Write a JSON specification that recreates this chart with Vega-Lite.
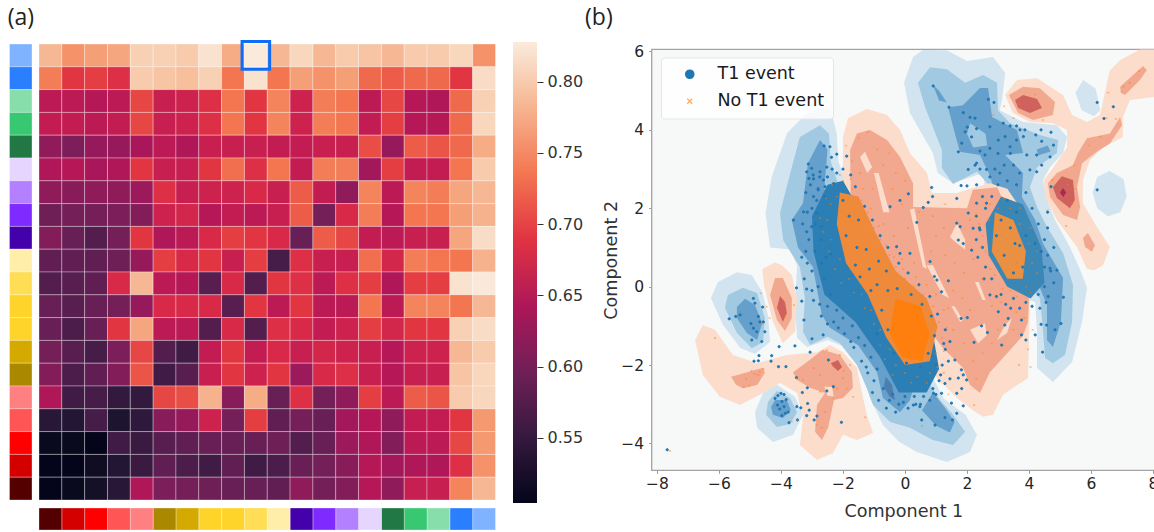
{"$schema":"https://vega.github.io/schema/vega-lite/v6.json","width":1154,"height":532,"padding":0,"autosize":"none","background":"#ffffff","config":{"view":{"stroke":null},"font":"DejaVu Sans"},"datasets":{"groups":[{"r":1,"c":20},{"r":2,"c":19},{"r":3,"c":18},{"r":4,"c":17},{"r":5,"c":16},{"r":6,"c":15},{"r":7,"c":14},{"r":8,"c":13},{"r":9,"c":12},{"r":10,"c":11},{"r":11,"c":10},{"r":12,"c":9},{"r":13,"c":8},{"r":14,"c":7},{"r":15,"c":6},{"r":16,"c":5},{"r":17,"c":4},{"r":18,"c":3},{"r":19,"c":2},{"r":20,"c":1}]},"resolve":{"scale":{"x":"independent","y":"independent","color":"independent","fill":"independent","stroke":"independent","shape":"independent","opacity":"independent"},"axis":{"x":"independent","y":"independent"},"legend":{"color":"independent"}},"layer":[
{"data":{"name":"groups"},"mark":{"type":"rect","stroke":"#ffffff","strokeWidth":0.6,"strokeOpacity":0.5},"encoding":{"x":{"datum":"strip","type":"nominal","axis":null,"scale":{"type":"band","range":[9.5,32],"paddingInner":0,"paddingOuter":0}},"y":{"field":"r","type":"ordinal","axis":null,"scale":{"type":"band","range":[44,500],"paddingInner":0,"paddingOuter":0}},"color":{"field":"r","type":"ordinal","legend":null,"scale":{"domain":[1,2,3,4,5,6,7,8,9,10,11,12,13,14,15,16,17,18,19,20],"range":["#80b3ff","#2a7fff","#87deaa","#37c871","#217844","#e5d5ff","#b380ff","#7f2aff","#4400aa","#ffeeaa","#ffdd55","#ffd42a","#ffd42a","#d4aa00","#aa8800","#ff8080","#ff5555","#ff0000","#d40000","#550000"]}}}},
{"data":{"name":"groups"},"mark":{"type":"rect","stroke":"#ffffff","strokeWidth":0.6,"strokeOpacity":0.5},"encoding":{"x":{"field":"c","type":"ordinal","axis":null,"scale":{"type":"band","range":[39,495.5],"paddingInner":0,"paddingOuter":0}},"y":{"datum":"strip","type":"nominal","axis":null,"scale":{"type":"band","range":[508,530],"paddingInner":0,"paddingOuter":0}},"color":{"field":"r","type":"ordinal","legend":null,"scale":{"domain":[1,2,3,4,5,6,7,8,9,10,11,12,13,14,15,16,17,18,19,20],"range":["#80b3ff","#2a7fff","#87deaa","#37c871","#217844","#e5d5ff","#b380ff","#7f2aff","#4400aa","#ffeeaa","#ffdd55","#ffd42a","#ffd42a","#d4aa00","#aa8800","#ff8080","#ff5555","#ff0000","#d40000","#550000"]}}}},
{"encoding":{"x":{"field":"c","type":"ordinal","axis":null,"scale":{"type":"band","range":[39,495.5],"paddingInner":0,"paddingOuter":0}},"y":{"field":"r","type":"ordinal","axis":null,"scale":{"type":"band","range":[44,500],"paddingInner":0,"paddingOuter":0}}},"layer":[
{"data":{"values":[
{"r":1,"c":1,"v":0.785},{"r":1,"c":2,"v":0.755},{"r":1,"c":3,"v":0.765},{"r":1,"c":4,"v":0.77},{"r":1,"c":5,"v":0.805},{"r":1,"c":6,"v":0.805},{"r":1,"c":7,"v":0.8},{"r":1,"c":8,"v":0.82},{"r":1,"c":9,"v":0.775},{"r":1,"c":10,"v":0.827},{"r":1,"c":11,"v":0.785},{"r":1,"c":12,"v":0.81},{"r":1,"c":13,"v":0.785},{"r":1,"c":14,"v":0.8},{"r":1,"c":15,"v":0.795},{"r":1,"c":16,"v":0.785},{"r":1,"c":17,"v":0.8},{"r":1,"c":18,"v":0.8},{"r":1,"c":19,"v":0.81},{"r":1,"c":20,"v":0.755},
{"r":2,"c":1,"v":0.74},{"r":2,"c":2,"v":0.69},{"r":2,"c":3,"v":0.695},{"r":2,"c":4,"v":0.685},{"r":2,"c":5,"v":0.8},{"r":2,"c":6,"v":0.795},{"r":2,"c":7,"v":0.79},{"r":2,"c":8,"v":0.805},{"r":2,"c":9,"v":0.735},{"r":2,"c":10,"v":0.82},{"r":2,"c":11,"v":0.735},{"r":2,"c":12,"v":0.765},{"r":2,"c":13,"v":0.755},{"r":2,"c":14,"v":0.765},{"r":2,"c":15,"v":0.725},{"r":2,"c":16,"v":0.715},{"r":2,"c":17,"v":0.725},{"r":2,"c":18,"v":0.725},{"r":2,"c":19,"v":0.69},{"r":2,"c":20,"v":0.815},
{"r":3,"c":1,"v":0.655},{"r":3,"c":2,"v":0.655},{"r":3,"c":3,"v":0.65},{"r":3,"c":4,"v":0.655},{"r":3,"c":5,"v":0.7},{"r":3,"c":6,"v":0.665},{"r":3,"c":7,"v":0.67},{"r":3,"c":8,"v":0.685},{"r":3,"c":9,"v":0.735},{"r":3,"c":10,"v":0.69},{"r":3,"c":11,"v":0.745},{"r":3,"c":12,"v":0.67},{"r":3,"c":13,"v":0.74},{"r":3,"c":14,"v":0.735},{"r":3,"c":15,"v":0.655},{"r":3,"c":16,"v":0.7},{"r":3,"c":17,"v":0.65},{"r":3,"c":18,"v":0.645},{"r":3,"c":19,"v":0.725},{"r":3,"c":20,"v":0.805},
{"r":4,"c":1,"v":0.66},{"r":4,"c":2,"v":0.66},{"r":4,"c":3,"v":0.655},{"r":4,"c":4,"v":0.66},{"r":4,"c":5,"v":0.7},{"r":4,"c":6,"v":0.665},{"r":4,"c":7,"v":0.67},{"r":4,"c":8,"v":0.685},{"r":4,"c":9,"v":0.735},{"r":4,"c":10,"v":0.69},{"r":4,"c":11,"v":0.745},{"r":4,"c":12,"v":0.67},{"r":4,"c":13,"v":0.74},{"r":4,"c":14,"v":0.735},{"r":4,"c":15,"v":0.66},{"r":4,"c":16,"v":0.695},{"r":4,"c":17,"v":0.65},{"r":4,"c":18,"v":0.65},{"r":4,"c":19,"v":0.725},{"r":4,"c":20,"v":0.81},
{"r":5,"c":1,"v":0.62},{"r":5,"c":2,"v":0.605},{"r":5,"c":3,"v":0.625},{"r":5,"c":4,"v":0.625},{"r":5,"c":5,"v":0.64},{"r":5,"c":6,"v":0.655},{"r":5,"c":7,"v":0.645},{"r":5,"c":8,"v":0.665},{"r":5,"c":9,"v":0.665},{"r":5,"c":10,"v":0.665},{"r":5,"c":11,"v":0.66},{"r":5,"c":12,"v":0.66},{"r":5,"c":13,"v":0.665},{"r":5,"c":14,"v":0.665},{"r":5,"c":15,"v":0.705},{"r":5,"c":16,"v":0.625},{"r":5,"c":17,"v":0.715},{"r":5,"c":18,"v":0.71},{"r":5,"c":19,"v":0.725},{"r":5,"c":20,"v":0.775},
{"r":6,"c":1,"v":0.645},{"r":6,"c":2,"v":0.65},{"r":6,"c":3,"v":0.64},{"r":6,"c":4,"v":0.645},{"r":6,"c":5,"v":0.69},{"r":6,"c":6,"v":0.665},{"r":6,"c":7,"v":0.665},{"r":6,"c":8,"v":0.69},{"r":6,"c":9,"v":0.73},{"r":6,"c":10,"v":0.685},{"r":6,"c":11,"v":0.735},{"r":6,"c":12,"v":0.66},{"r":6,"c":13,"v":0.74},{"r":6,"c":14,"v":0.74},{"r":6,"c":15,"v":0.635},{"r":6,"c":16,"v":0.695},{"r":6,"c":17,"v":0.66},{"r":6,"c":18,"v":0.66},{"r":6,"c":19,"v":0.735},{"r":6,"c":20,"v":0.8},
{"r":7,"c":1,"v":0.62},{"r":7,"c":2,"v":0.615},{"r":7,"c":3,"v":0.62},{"r":7,"c":4,"v":0.62},{"r":7,"c":5,"v":0.63},{"r":7,"c":6,"v":0.685},{"r":7,"c":7,"v":0.665},{"r":7,"c":8,"v":0.67},{"r":7,"c":9,"v":0.67},{"r":7,"c":10,"v":0.68},{"r":7,"c":11,"v":0.665},{"r":7,"c":12,"v":0.715},{"r":7,"c":13,"v":0.66},{"r":7,"c":14,"v":0.62},{"r":7,"c":15,"v":0.745},{"r":7,"c":16,"v":0.655},{"r":7,"c":17,"v":0.745},{"r":7,"c":18,"v":0.74},{"r":7,"c":19,"v":0.77},{"r":7,"c":20,"v":0.785},
{"r":8,"c":1,"v":0.595},{"r":8,"c":2,"v":0.6},{"r":8,"c":3,"v":0.6},{"r":8,"c":4,"v":0.605},{"r":8,"c":5,"v":0.61},{"r":8,"c":6,"v":0.67},{"r":8,"c":7,"v":0.675},{"r":8,"c":8,"v":0.65},{"r":8,"c":9,"v":0.66},{"r":8,"c":10,"v":0.655},{"r":8,"c":11,"v":0.665},{"r":8,"c":12,"v":0.715},{"r":8,"c":13,"v":0.6},{"r":8,"c":14,"v":0.68},{"r":8,"c":15,"v":0.74},{"r":8,"c":16,"v":0.65},{"r":8,"c":17,"v":0.735},{"r":8,"c":18,"v":0.735},{"r":8,"c":19,"v":0.765},{"r":8,"c":20,"v":0.78},
{"r":9,"c":1,"v":0.61},{"r":9,"c":2,"v":0.59},{"r":9,"c":3,"v":0.575},{"r":9,"c":4,"v":0.6},{"r":9,"c":5,"v":0.69},{"r":9,"c":6,"v":0.645},{"r":9,"c":7,"v":0.655},{"r":9,"c":8,"v":0.68},{"r":9,"c":9,"v":0.695},{"r":9,"c":10,"v":0.69},{"r":9,"c":11,"v":0.68},{"r":9,"c":12,"v":0.59},{"r":9,"c":13,"v":0.715},{"r":9,"c":14,"v":0.7},{"r":9,"c":15,"v":0.66},{"r":9,"c":16,"v":0.655},{"r":9,"c":17,"v":0.665},{"r":9,"c":18,"v":0.665},{"r":9,"c":19,"v":0.77},{"r":9,"c":20,"v":0.815},
{"r":10,"c":1,"v":0.585},{"r":10,"c":2,"v":0.585},{"r":10,"c":3,"v":0.585},{"r":10,"c":4,"v":0.595},{"r":10,"c":5,"v":0.625},{"r":10,"c":6,"v":0.695},{"r":10,"c":7,"v":0.68},{"r":10,"c":8,"v":0.69},{"r":10,"c":9,"v":0.665},{"r":10,"c":10,"v":0.695},{"r":10,"c":11,"v":0.565},{"r":10,"c":12,"v":0.685},{"r":10,"c":13,"v":0.665},{"r":10,"c":14,"v":0.665},{"r":10,"c":15,"v":0.73},{"r":10,"c":16,"v":0.675},{"r":10,"c":17,"v":0.74},{"r":10,"c":18,"v":0.735},{"r":10,"c":19,"v":0.735},{"r":10,"c":20,"v":0.78},
{"r":11,"c":1,"v":0.575},{"r":11,"c":2,"v":0.58},{"r":11,"c":3,"v":0.585},{"r":11,"c":4,"v":0.68},{"r":11,"c":5,"v":0.785},{"r":11,"c":6,"v":0.655},{"r":11,"c":7,"v":0.65},{"r":11,"c":8,"v":0.58},{"r":11,"c":9,"v":0.68},{"r":11,"c":10,"v":0.575},{"r":11,"c":11,"v":0.69},{"r":11,"c":12,"v":0.685},{"r":11,"c":13,"v":0.655},{"r":11,"c":14,"v":0.685},{"r":11,"c":15,"v":0.695},{"r":11,"c":16,"v":0.645},{"r":11,"c":17,"v":0.695},{"r":11,"c":18,"v":0.695},{"r":11,"c":19,"v":0.82},{"r":11,"c":20,"v":0.825},
{"r":12,"c":1,"v":0.59},{"r":12,"c":2,"v":0.58},{"r":12,"c":3,"v":0.59},{"r":12,"c":4,"v":0.6},{"r":12,"c":5,"v":0.625},{"r":12,"c":6,"v":0.68},{"r":12,"c":7,"v":0.68},{"r":12,"c":8,"v":0.68},{"r":12,"c":9,"v":0.58},{"r":12,"c":10,"v":0.69},{"r":12,"c":11,"v":0.655},{"r":12,"c":12,"v":0.69},{"r":12,"c":13,"v":0.655},{"r":12,"c":14,"v":0.655},{"r":12,"c":15,"v":0.735},{"r":12,"c":16,"v":0.655},{"r":12,"c":17,"v":0.745},{"r":12,"c":18,"v":0.745},{"r":12,"c":19,"v":0.735},{"r":12,"c":20,"v":0.785},
{"r":13,"c":1,"v":0.59},{"r":13,"c":2,"v":0.57},{"r":13,"c":3,"v":0.59},{"r":13,"c":4,"v":0.69},{"r":13,"c":5,"v":0.77},{"r":13,"c":6,"v":0.655},{"r":13,"c":7,"v":0.655},{"r":13,"c":8,"v":0.575},{"r":13,"c":9,"v":0.68},{"r":13,"c":10,"v":0.575},{"r":13,"c":11,"v":0.685},{"r":13,"c":12,"v":0.68},{"r":13,"c":13,"v":0.66},{"r":13,"c":14,"v":0.67},{"r":13,"c":15,"v":0.695},{"r":13,"c":16,"v":0.675},{"r":13,"c":17,"v":0.69},{"r":13,"c":18,"v":0.69},{"r":13,"c":19,"v":0.805},{"r":13,"c":20,"v":0.815},
{"r":14,"c":1,"v":0.6},{"r":14,"c":2,"v":0.58},{"r":14,"c":3,"v":0.565},{"r":14,"c":4,"v":0.605},{"r":14,"c":5,"v":0.7},{"r":14,"c":6,"v":0.575},{"r":14,"c":7,"v":0.56},{"r":14,"c":8,"v":0.66},{"r":14,"c":9,"v":0.69},{"r":14,"c":10,"v":0.66},{"r":14,"c":11,"v":0.68},{"r":14,"c":12,"v":0.665},{"r":14,"c":13,"v":0.675},{"r":14,"c":14,"v":0.67},{"r":14,"c":15,"v":0.665},{"r":14,"c":16,"v":0.65},{"r":14,"c":17,"v":0.67},{"r":14,"c":18,"v":0.67},{"r":14,"c":19,"v":0.785},{"r":14,"c":20,"v":0.8},
{"r":15,"c":1,"v":0.61},{"r":15,"c":2,"v":0.57},{"r":15,"c":3,"v":0.585},{"r":15,"c":4,"v":0.61},{"r":15,"c":5,"v":0.71},{"r":15,"c":6,"v":0.56},{"r":15,"c":7,"v":0.58},{"r":15,"c":8,"v":0.665},{"r":15,"c":9,"v":0.69},{"r":15,"c":10,"v":0.67},{"r":15,"c":11,"v":0.69},{"r":15,"c":12,"v":0.63},{"r":15,"c":13,"v":0.68},{"r":15,"c":14,"v":0.685},{"r":15,"c":15,"v":0.665},{"r":15,"c":16,"v":0.65},{"r":15,"c":17,"v":0.665},{"r":15,"c":18,"v":0.665},{"r":15,"c":19,"v":0.795},{"r":15,"c":20,"v":0.81},
{"r":16,"c":1,"v":0.645},{"r":16,"c":2,"v":0.56},{"r":16,"c":3,"v":0.565},{"r":16,"c":4,"v":0.55},{"r":16,"c":5,"v":0.55},{"r":16,"c":6,"v":0.7},{"r":16,"c":7,"v":0.705},{"r":16,"c":8,"v":0.78},{"r":16,"c":9,"v":0.615},{"r":16,"c":10,"v":0.775},{"r":16,"c":11,"v":0.59},{"r":16,"c":12,"v":0.685},{"r":16,"c":13,"v":0.6},{"r":16,"c":14,"v":0.62},{"r":16,"c":15,"v":0.695},{"r":16,"c":16,"v":0.655},{"r":16,"c":17,"v":0.715},{"r":16,"c":18,"v":0.71},{"r":16,"c":19,"v":0.8},{"r":16,"c":20,"v":0.81},
{"r":17,"c":1,"v":0.54},{"r":17,"c":2,"v":0.535},{"r":17,"c":3,"v":0.565},{"r":17,"c":4,"v":0.53},{"r":17,"c":5,"v":0.545},{"r":17,"c":6,"v":0.615},{"r":17,"c":7,"v":0.625},{"r":17,"c":8,"v":0.67},{"r":17,"c":9,"v":0.6},{"r":17,"c":10,"v":0.695},{"r":17,"c":11,"v":0.585},{"r":17,"c":12,"v":0.6},{"r":17,"c":13,"v":0.59},{"r":17,"c":14,"v":0.635},{"r":17,"c":15,"v":0.65},{"r":17,"c":16,"v":0.62},{"r":17,"c":17,"v":0.66},{"r":17,"c":18,"v":0.66},{"r":17,"c":19,"v":0.69},{"r":17,"c":20,"v":0.76},
{"r":18,"c":1,"v":0.51},{"r":18,"c":2,"v":0.51},{"r":18,"c":3,"v":0.505},{"r":18,"c":4,"v":0.56},{"r":18,"c":5,"v":0.555},{"r":18,"c":6,"v":0.58},{"r":18,"c":7,"v":0.585},{"r":18,"c":8,"v":0.59},{"r":18,"c":9,"v":0.59},{"r":18,"c":10,"v":0.59},{"r":18,"c":11,"v":0.595},{"r":18,"c":12,"v":0.575},{"r":18,"c":13,"v":0.59},{"r":18,"c":14,"v":0.63},{"r":18,"c":15,"v":0.645},{"r":18,"c":16,"v":0.61},{"r":18,"c":17,"v":0.655},{"r":18,"c":18,"v":0.655},{"r":18,"c":19,"v":0.7},{"r":18,"c":20,"v":0.76},
{"r":19,"c":1,"v":0.505},{"r":19,"c":2,"v":0.505},{"r":19,"c":3,"v":0.515},{"r":19,"c":4,"v":0.535},{"r":19,"c":5,"v":0.555},{"r":19,"c":6,"v":0.585},{"r":19,"c":7,"v":0.57},{"r":19,"c":8,"v":0.56},{"r":19,"c":9,"v":0.585},{"r":19,"c":10,"v":0.56},{"r":19,"c":11,"v":0.57},{"r":19,"c":12,"v":0.59},{"r":19,"c":13,"v":0.6},{"r":19,"c":14,"v":0.615},{"r":19,"c":15,"v":0.65},{"r":19,"c":16,"v":0.635},{"r":19,"c":17,"v":0.645},{"r":19,"c":18,"v":0.645},{"r":19,"c":19,"v":0.685},{"r":19,"c":20,"v":0.755},
{"r":20,"c":1,"v":0.505},{"r":20,"c":2,"v":0.51},{"r":20,"c":3,"v":0.52},{"r":20,"c":4,"v":0.54},{"r":20,"c":5,"v":0.645},{"r":20,"c":6,"v":0.605},{"r":20,"c":7,"v":0.6},{"r":20,"c":8,"v":0.595},{"r":20,"c":9,"v":0.59},{"r":20,"c":10,"v":0.59},{"r":20,"c":11,"v":0.585},{"r":20,"c":12,"v":0.62},{"r":20,"c":13,"v":0.6},{"r":20,"c":14,"v":0.61},{"r":20,"c":15,"v":0.65},{"r":20,"c":16,"v":0.62},{"r":20,"c":17,"v":0.665},{"r":20,"c":18,"v":0.665},{"r":20,"c":19,"v":0.745},{"r":20,"c":20,"v":0.785}
]},"mark":{"type":"rect","stroke":"#ffffff","strokeWidth":0.7,"strokeOpacity":0.45},"encoding":{"color":{"field":"v","type":"quantitative","legend":null,"scale":{"domain":[0.5044,0.5506,0.5968,0.643,0.6892,0.7354,0.7816,0.8278],"range":["#03051a","#35193e","#701f57","#ad1759","#e13342","#f37651","#f6b48f","#faebdd"]}}}},
{"data":{"values":[{"r":1,"c":10}]},"mark":{"type":"point","shape":"square","filled":false,"stroke":"#0f6df5","strokeWidth":3,"size":760,"opacity":1}}
]},
{"data":{"values":[{"a":0,"b":1,"lo":0.5044,"hi":0.8278}]},"mark":{"type":"rect","fill":{"gradient":"linear","x1":0,"y1":1,"x2":0,"y2":0,"stops":[{"offset":0,"color":"#03051a"},{"offset":0.1429,"color":"#35193e"},{"offset":0.2857,"color":"#701f57"},{"offset":0.4286,"color":"#ad1759"},{"offset":0.5714,"color":"#e13342"},{"offset":0.7143,"color":"#f37651"},{"offset":0.8571,"color":"#f6b48f"},{"offset":1,"color":"#faebdd"}]}},"encoding":{"x":{"field":"a","type":"quantitative","axis":null,"scale":{"domain":[0,1],"range":[513,537],"zero":false,"nice":false}},"x2":{"field":"b"},"y":{"field":"lo","type":"quantitative","scale":{"domain":[0.5044,0.8278],"range":[503,42],"zero":false,"nice":false},"axis":{"orient":"right","offset":-617,"title":null,"values":[0.55,0.6,0.65,0.7,0.75,0.8],"format":".2f","domain":false,"grid":false,"tickColor":"#333333","tickSize":6,"labelFontSize":16,"labelColor":"#333333","labelPadding":4,"labelFont":"DejaVu Sans"}},"y2":{"field":"hi"}}},
{"encoding":{"x":{"field":"x","type":"quantitative","scale":{"domain":[-8.17,8.065],"range":[651.7,1155],"zero":false,"nice":false},"axis":{"orient":"bottom","offset":-61.7,"title":"Component 1","values":[-8,-6,-4,-2,0,2,4,6,8],"domain":false,"grid":false,"tickColor":"#999999","tickSize":3,"labelFontSize":15.5,"labelColor":"#262626","labelPadding":3,"labelFont":"DejaVu Sans","titleFont":"DejaVu Sans","titleFontSize":17.6,"titleFontWeight":"normal","titleColor":"#333333","titlePadding":11,"labelBound":false,"labelFlush":false,"labelOverlap":false}},"y":{"field":"y","type":"quantitative","scale":{"domain":[-4.684,6.056],"range":[470.3,49.3],"zero":false,"nice":false},"axis":{"orient":"left","offset":-651.7,"title":"Component 2","values":[-4,-2,0,2,4,6],"domain":false,"grid":false,"tickColor":"#999999","tickSize":3,"labelFontSize":15.5,"labelColor":"#262626","labelPadding":5,"labelFont":"DejaVu Sans","titleFont":"DejaVu Sans","titleFontSize":17.6,"titleFontWeight":"normal","titleColor":"#333333","titlePadding":0,"labelOverlap":false}}},"layer":[
{"data":{"values":[{"x":-8.17,"x2":8.065,"y":-4.684,"y2":6.056}]},"mark":{"type":"rect","fill":"#f7f8f8","stroke":"#a3a3a3","strokeWidth":1.3},"encoding":{"x2":{"field":"x2"},"y2":{"field":"y2"}}},
{"data":{"values":[
{"p":"B1a","x":-2.74,"y":4.56},{"p":"B1a","x":-2.4,"y":4.52},{"p":"B1a","x":-2.2,"y":3.9},{"p":"B1a","x":-2.15,"y":3.2},{"p":"B1a","x":-1.6,"y":2},{"p":"B1a","x":-0.9,"y":0.6},{"p":"B1a","x":-0.2,"y":-0.6},{"p":"B1a","x":0.5,"y":-1.6},{"p":"B1a","x":0.95,"y":-2.4},{"p":"B1a","x":1.25,"y":-2.85},{"p":"B1a","x":1.95,"y":-3.27},{"p":"B1a","x":2.32,"y":-3.78},{"p":"B1a","x":2.1,"y":-4.22},{"p":"B1a","x":1.35,"y":-4.47},{"p":"B1a","x":0.38,"y":-4.22},{"p":"B1a","x":-0.2,"y":-3.95},{"p":"B1a","x":-0.71,"y":-3.53},{"p":"B1a","x":-1.13,"y":-2.84},{"p":"B1a","x":-1.35,"y":-2.18},{"p":"B1a","x":-1.87,"y":-1.56},{"p":"B1a","x":-2.5,"y":-1.36},{"p":"B1a","x":-3.16,"y":-1.54},{"p":"B1a","x":-3.48,"y":-1.3},{"p":"B1a","x":-3.55,"y":-0.5},{"p":"B1a","x":-3.48,"y":0.55},{"p":"B1a","x":-3.7,"y":0.95},{"p":"B1a","x":-4.35,"y":1},{"p":"B1a","x":-4.5,"y":1.88},{"p":"B1a","x":-4.3,"y":2.8},{"p":"B1a","x":-3.8,"y":3.92},{"p":"B1a","x":-3.2,"y":4.4},
{"p":"B1b","x":0.58,"y":6.04},{"p":"B1b","x":1.35,"y":6.03},{"p":"B1b","x":2,"y":5.76},{"p":"B1b","x":2.84,"y":5.86},{"p":"B1b","x":3.23,"y":5.45},{"p":"B1b","x":3.13,"y":4.76},{"p":"B1b","x":3.06,"y":4.5},{"p":"B1b","x":3.81,"y":4.2},{"p":"B1b","x":4.9,"y":4.12},{"p":"B1b","x":5.23,"y":3.82},{"p":"B1b","x":5.1,"y":3.41},{"p":"B1b","x":4.68,"y":3.05},{"p":"B1b","x":4.45,"y":2.72},{"p":"B1b","x":4.58,"y":2.21},{"p":"B1b","x":4.84,"y":1.7},{"p":"B1b","x":5.32,"y":1.01},{"p":"B1b","x":5.65,"y":0.43},{"p":"B1b","x":5.87,"y":-0.03},{"p":"B1b","x":5.71,"y":-0.9},{"p":"B1b","x":5.39,"y":-1.92},{"p":"B1b","x":4.77,"y":-2.43},{"p":"B1b","x":4.26,"y":-2.07},{"p":"B1b","x":4.26,"y":-1.16},{"p":"B1b","x":4.2,"y":-0.39},{"p":"B1b","x":3.4,"y":-0.2},{"p":"B1b","x":2.7,"y":0.5},{"p":"B1b","x":2.5,"y":1.5},{"p":"B1b","x":2.6,"y":2.4},{"p":"B1b","x":2.52,"y":2.9},{"p":"B1b","x":1.55,"y":2.64},{"p":"B1b","x":1.06,"y":2.9},{"p":"B1b","x":0.9,"y":3.41},{"p":"B1b","x":0.16,"y":4.43},{"p":"B1b","x":-0.03,"y":5.2},{"p":"B1b","x":0.26,"y":5.86},
{"p":"B1c","x":-5.42,"y":0.37},{"p":"B1c","x":-4.94,"y":0.3},{"p":"B1c","x":-4.6,"y":-0.14},{"p":"B1c","x":-4.42,"y":-0.72},{"p":"B1c","x":-4.35,"y":-1.41},{"p":"B1c","x":-4.84,"y":-1.72},{"p":"B1c","x":-5.32,"y":-1.56},{"p":"B1c","x":-5.87,"y":-0.98},{"p":"B1c","x":-6.26,"y":-0.29},{"p":"B1c","x":-6.03,"y":0.12},
{"p":"B1d","x":-4.13,"y":-2.5},{"p":"B1d","x":-3.55,"y":-2.81},{"p":"B1d","x":-3.29,"y":-3.27},{"p":"B1d","x":-3.61,"y":-3.78},{"p":"B1d","x":-4.26,"y":-3.96},{"p":"B1d","x":-4.77,"y":-3.6},{"p":"B1d","x":-4.84,"y":-3.2},{"p":"B1d","x":-4.58,"y":-2.71},
{"p":"B1e","x":5.75,"y":5.27},{"p":"B1e","x":6.15,"y":5.05},{"p":"B1e","x":6.3,"y":4.5},{"p":"B1e","x":6.1,"y":4.35},{"p":"B1e","x":5.7,"y":4.5},{"p":"B1e","x":5.5,"y":4.95},
{"p":"B1f","x":6.6,"y":2.95},{"p":"B1f","x":7.05,"y":2.75},{"p":"B1f","x":7.15,"y":2.3},{"p":"B1f","x":6.95,"y":1.9},{"p":"B1f","x":6.55,"y":1.8},{"p":"B1f","x":6.2,"y":2},{"p":"B1f","x":6.05,"y":2.4},{"p":"B1f","x":6.2,"y":2.8},
{"p":"B2a","x":-2.74,"y":4.12},{"p":"B2a","x":-2.45,"y":3.9},{"p":"B2a","x":-2.4,"y":3.2},{"p":"B2a","x":-1.9,"y":2},{"p":"B2a","x":-1.2,"y":0.5},{"p":"B2a","x":-0.4,"y":-0.8},{"p":"B2a","x":0.3,"y":-1.9},{"p":"B2a","x":1.13,"y":-2.89},{"p":"B2a","x":1.55,"y":-3.27},{"p":"B2a","x":1.94,"y":-3.7},{"p":"B2a","x":1.55,"y":-4.04},{"p":"B2a","x":0.9,"y":-3.91},{"p":"B2a","x":0.16,"y":-3.6},{"p":"B2a","x":-0.48,"y":-3.45},{"p":"B2a","x":-1.03,"y":-3.02},{"p":"B2a","x":-1.23,"y":-2.59},{"p":"B2a","x":-1.55,"y":-2},{"p":"B2a","x":-2.1,"y":-1.44},{"p":"B2a","x":-2.5,"y":-1.28},{"p":"B2a","x":-3.06,"y":-1.49},{"p":"B2a","x":-3.29,"y":-1.15},{"p":"B2a","x":-3.23,"y":-0.29},{"p":"B2a","x":-3.39,"y":0.5},{"p":"B2a","x":-3.93,"y":1.19},{"p":"B2a","x":-4.03,"y":1.88},{"p":"B2a","x":-3.7,"y":2.9},{"p":"B2a","x":-3.39,"y":3.82},
{"p":"B2b","x":0.81,"y":5.6},{"p":"B2b","x":1.35,"y":5.55},{"p":"B2b","x":1.94,"y":5.2},{"p":"B2b","x":2.52,"y":5.4},{"p":"B2b","x":2.97,"y":5.2},{"p":"B2b","x":3,"y":4.5},{"p":"B2b","x":3.39,"y":4.17},{"p":"B2b","x":4.35,"y":3.87},{"p":"B2b","x":4.94,"y":3.74},{"p":"B2b","x":4.9,"y":3.41},{"p":"B2b","x":4.26,"y":3.05},{"p":"B2b","x":4.03,"y":2.54},{"p":"B2b","x":4.26,"y":2.03},{"p":"B2b","x":4.58,"y":1.52},{"p":"B2b","x":5.1,"y":0.86},{"p":"B2b","x":5.42,"y":0.04},{"p":"B2b","x":5.39,"y":-0.9},{"p":"B2b","x":5.16,"y":-1.74},{"p":"B2b","x":4.77,"y":-1.95},{"p":"B2b","x":4.52,"y":-1.82},{"p":"B2b","x":4.42,"y":-0.8},{"p":"B2b","x":4.35,"y":-0.29},{"p":"B2b","x":3.9,"y":0.1},{"p":"B2b","x":3.4,"y":0.9},{"p":"B2b","x":3,"y":1.8},{"p":"B2b","x":2.7,"y":2.6},{"p":"B2b","x":2.32,"y":2.93},{"p":"B2b","x":1.55,"y":2.62},{"p":"B2b","x":1.19,"y":3.03},{"p":"B2b","x":1.19,"y":3.49},{"p":"B2b","x":0.65,"y":4.58},{"p":"B2b","x":0.42,"y":5.2},
{"p":"B2c","x":-5.23,"y":-0.03},{"p":"B2c","x":-4.77,"y":-0.16},{"p":"B2c","x":-4.52,"y":-0.8},{"p":"B2c","x":-4.58,"y":-1.41},{"p":"B2c","x":-4.94,"y":-1.57},{"p":"B2c","x":-5.42,"y":-1.18},{"p":"B2c","x":-5.81,"y":-0.54},{"p":"B2c","x":-5.71,"y":-0.21},
{"p":"B2d","x":-4.13,"y":-2.66},{"p":"B2d","x":-3.71,"y":-2.84},{"p":"B2d","x":-3.48,"y":-3.2},{"p":"B2d","x":-3.71,"y":-3.5},{"p":"B2d","x":-4.13,"y":-3.58},{"p":"B2d","x":-4.48,"y":-3.27},{"p":"B2d","x":-4.42,"y":-2.94},
{"p":"B3a","x":-2.74,"y":3.74},{"p":"B3a","x":-2.5,"y":3.5},{"p":"B3a","x":-2.6,"y":2.5},{"p":"B3a","x":-2,"y":1.2},{"p":"B3a","x":-1.4,"y":0.2},{"p":"B3a","x":-0.7,"y":-0.9},{"p":"B3a","x":-0.1,"y":-1.7},{"p":"B3a","x":0.3,"y":-2.5},{"p":"B3a","x":0.16,"y":-2.9},{"p":"B3a","x":-0.16,"y":-3.2},{"p":"B3a","x":-0.71,"y":-2.84},{"p":"B3a","x":-0.9,"y":-2.18},{"p":"B3a","x":-1.5,"y":-1.5},{"p":"B3a","x":-2.42,"y":-1.05},{"p":"B3a","x":-2.68,"y":-0.72},{"p":"B3a","x":-2.97,"y":0.5},{"p":"B3a","x":-3.45,"y":1},{"p":"B3a","x":-3.65,"y":1.7},{"p":"B3a","x":-3.29,"y":2.13},{"p":"B3a","x":-3.13,"y":3.15},
{"p":"B3b","x":1.39,"y":4.58},{"p":"B3b","x":1.87,"y":4.63},{"p":"B3b","x":2.42,"y":5.07},{"p":"B3b","x":2.68,"y":5.07},{"p":"B3b","x":2.81,"y":4.33},{"p":"B3b","x":3.61,"y":4},{"p":"B3b","x":3.81,"y":3.41},{"p":"B3b","x":3.23,"y":3.36},{"p":"B3b","x":3.81,"y":2.9},{"p":"B3b","x":3.77,"y":2.29},{"p":"B3b","x":4.2,"y":1.7},{"p":"B3b","x":4.45,"y":1.1},{"p":"B3b","x":5.1,"y":0.22},{"p":"B3b","x":5.03,"y":-0.9},{"p":"B3b","x":4.77,"y":-1.54},{"p":"B3b","x":4.58,"y":-1.36},{"p":"B3b","x":4.58,"y":-0.47},{"p":"B3b","x":4.35,"y":-0.03},{"p":"B3b","x":3.9,"y":0.6},{"p":"B3b","x":3.2,"y":1.8},{"p":"B3b","x":2.7,"y":2.9},{"p":"B3b","x":2.42,"y":3.36},{"p":"B3b","x":1.77,"y":3.44},{"p":"B3b","x":1.61,"y":3.91},
{"p":"B3c","x":-5.16,"y":-0.31},{"p":"B3c","x":-4.84,"y":-0.47},{"p":"B3c","x":-4.61,"y":-0.93},{"p":"B3c","x":-4.77,"y":-1.36},{"p":"B3c","x":-5.1,"y":-1.18},{"p":"B3c","x":-5.42,"y":-0.8},{"p":"B3c","x":-5.42,"y":-0.52},
{"p":"B3d","x":-4.19,"y":-2.89},{"p":"B3d","x":-3.81,"y":-2.89},{"p":"B3d","x":-3.68,"y":-3.15},{"p":"B3d","x":-3.94,"y":-3.35},{"p":"B3d","x":-4.26,"y":-3.27},{"p":"B3d","x":-4.32,"y":-3.07},
{"p":"B3e","x":0.9,"y":-2.7},{"p":"B3e","x":1.3,"y":-3.1},{"p":"B3e","x":1.6,"y":-3.45},{"p":"B3e","x":1.45,"y":-3.72},{"p":"B3e","x":1,"y":-3.55},{"p":"B3e","x":0.55,"y":-3.15},
{"p":"B3f","x":0.9,"y":5.15},{"p":"B3f","x":1.1,"y":5},{"p":"B3f","x":1.35,"y":4.7},{"p":"B3f","x":1.1,"y":4.75},
{"p":"B3g","x":4.25,"y":3.5},{"p":"B3g","x":4.6,"y":3.6},{"p":"B3g","x":4.7,"y":3.45},{"p":"B3g","x":4.3,"y":3.35},
{"p":"B2h","x":2.1,"y":4.17},{"p":"B2h","x":2.6,"y":3.9},{"p":"B2h","x":2.65,"y":3.6},{"p":"B2h","x":2.2,"y":3.55},{"p":"B2h","x":2,"y":3.9},
{"p":"B4a","x":-0.62,"y":-2.3},{"p":"B4a","x":-0.42,"y":-2.5},{"p":"B4a","x":-0.32,"y":-2.9},{"p":"B4a","x":-0.5,"y":-2.8},{"p":"B4a","x":-0.68,"y":-2.55},
{"p":"O1a","x":-6.77,"y":-1.36},{"p":"O1a","x":-6.52,"y":-0.98},{"p":"O1a","x":-6.13,"y":-1.1},{"p":"O1a","x":-5.55,"y":-1.74},{"p":"O1a","x":-4.77,"y":-1.95},{"p":"O1a","x":-3.81,"y":-1.74},{"p":"O1a","x":-2.84,"y":-1.67},{"p":"O1a","x":-2.42,"y":-1.49},{"p":"O1a","x":-2,"y":-1.67},{"p":"O1a","x":-1.55,"y":-2.07},{"p":"O1a","x":-1.39,"y":-2.69},{"p":"O1a","x":-1.23,"y":-3.27},{"p":"O1a","x":-1.03,"y":-3.73},{"p":"O1a","x":-1.55,"y":-3.91},{"p":"O1a","x":-2,"y":-3.78},{"p":"O1a","x":-2.32,"y":-4.24},{"p":"O1a","x":-2.84,"y":-4.42},{"p":"O1a","x":-3.39,"y":-4.04},{"p":"O1a","x":-3.29,"y":-3.35},{"p":"O1a","x":-3.48,"y":-2.71},{"p":"O1a","x":-4.03,"y":-2.46},{"p":"O1a","x":-4.58,"y":-2.71},{"p":"O1a","x":-5.32,"y":-3.02},{"p":"O1a","x":-5.97,"y":-2.81},{"p":"O1a","x":-6.52,"y":-2.25},
{"p":"O1b","x":-2,"y":3.82},{"p":"O1b","x":-1.84,"y":4.3},{"p":"O1b","x":-1.23,"y":4.53},{"p":"O1b","x":-0.58,"y":4.38},{"p":"O1b","x":-0.16,"y":4},{"p":"O1b","x":0.16,"y":3.41},{"p":"O1b","x":0.71,"y":2.9},{"p":"O1b","x":0.87,"y":2.39},{"p":"O1b","x":1.68,"y":2.39},{"p":"O1b","x":2.32,"y":2.55},{"p":"O1b","x":2.74,"y":2.64},{"p":"O1b","x":3.3,"y":2.5},{"p":"O1b","x":3.9,"y":1.8},{"p":"O1b","x":4.2,"y":0.8},{"p":"O1b","x":4.1,"y":0.1},{"p":"O1b","x":4.03,"y":-0.29},{"p":"O1b","x":3.97,"y":-2.33},{"p":"O1b","x":3.48,"y":-2.58},{"p":"O1b","x":3.16,"y":-2.76},{"p":"O1b","x":2.84,"y":-3.27},{"p":"O1b","x":2.52,"y":-3.32},{"p":"O1b","x":2.19,"y":-3.15},{"p":"O1b","x":1.68,"y":-2.84},{"p":"O1b","x":1.03,"y":-2.33},{"p":"O1b","x":0.5,"y":-1.3},{"p":"O1b","x":-0.3,"y":-0.5},{"p":"O1b","x":-1,"y":0.5},{"p":"O1b","x":-1.6,"y":1.6},{"p":"O1b","x":-2,"y":2.8},
{"p":"O1c","x":3.23,"y":4.89},{"p":"O1c","x":3.61,"y":5.27},{"p":"O1c","x":4.26,"y":5.32},{"p":"O1c","x":5.1,"y":4.89},{"p":"O1c","x":5.39,"y":4.38},{"p":"O1c","x":5.87,"y":4.2},{"p":"O1c","x":6.29,"y":4.38},{"p":"O1c","x":6.52,"y":5.2},{"p":"O1c","x":6.6,"y":5.5},{"p":"O1c","x":6.94,"y":5.78},{"p":"O1c","x":7.58,"y":6.05},{"p":"O1c","x":8.05,"y":6.05},{"p":"O1c","x":8.05,"y":4.84},{"p":"O1c","x":7.26,"y":4.76},{"p":"O1c","x":7.03,"y":4.33},{"p":"O1c","x":7.03,"y":3.82},{"p":"O1c","x":6.39,"y":3.56},{"p":"O1c","x":5.97,"y":3.23},{"p":"O1c","x":5.74,"y":2.72},{"p":"O1c","x":5.74,"y":2.13},{"p":"O1c","x":6.19,"y":1.52},{"p":"O1c","x":6.61,"y":1.01},{"p":"O1c","x":6.39,"y":0.55},{"p":"O1c","x":6.1,"y":0.42},{"p":"O1c","x":5.87,"y":0.45},{"p":"O1c","x":5.55,"y":1.01},{"p":"O1c","x":4.9,"y":1.7},{"p":"O1c","x":4.52,"y":2.29},{"p":"O1c","x":4.48,"y":2.72},{"p":"O1c","x":4.77,"y":3.02},{"p":"O1c","x":5.23,"y":3.56},{"p":"O1c","x":5.23,"y":4},{"p":"O1c","x":4.77,"y":4.17},{"p":"O1c","x":4.03,"y":4.2},{"p":"O1c","x":3.48,"y":4.43},
{"p":"O1d","x":-4.55,"y":0.04},{"p":"O1d","x":-4.26,"y":-0.9},{"p":"O1d","x":-3.94,"y":-1.44},{"p":"O1d","x":-3.55,"y":-1.15},{"p":"O1d","x":-3.48,"y":-0.29},{"p":"O1d","x":-3.65,"y":0.3},{"p":"O1d","x":-3.97,"y":0.55},{"p":"O1d","x":-4.2,"y":0.62},{"p":"O1d","x":-4.6,"y":0.45},
{"p":"O2a","x":-4.19,"y":0.22},{"p":"O2a","x":-3.94,"y":0.22},{"p":"O2a","x":-3.65,"y":-0.29},{"p":"O2a","x":-3.65,"y":-0.8},{"p":"O2a","x":-3.87,"y":-1.13},{"p":"O2a","x":-4.13,"y":-0.85},{"p":"O2a","x":-4.35,"y":-0.21},
{"p":"O2b","x":-5.61,"y":-2.3},{"p":"O2b","x":-4.58,"y":-2.07},{"p":"O2b","x":-4.52,"y":-2.2},{"p":"O2b","x":-4.77,"y":-2.51},{"p":"O2b","x":-5.23,"y":-2.59},{"p":"O2b","x":-5.45,"y":-2.5},
{"p":"O2c","x":-3.61,"y":-2.18},{"p":"O2c","x":-3.16,"y":-1.92},{"p":"O2c","x":-2.65,"y":-1.61},{"p":"O2c","x":-2.1,"y":-1.74},{"p":"O2c","x":-1.71,"y":-2.18},{"p":"O2c","x":-1.68,"y":-2.58},{"p":"O2c","x":-2,"y":-2.84},{"p":"O2c","x":-2.29,"y":-2.89},{"p":"O2c","x":-2.48,"y":-3.6},{"p":"O2c","x":-2.68,"y":-3.91},{"p":"O2c","x":-2.9,"y":-3.7},{"p":"O2c","x":-2.84,"y":-3.02},{"p":"O2c","x":-2.58,"y":-2.71},{"p":"O2c","x":-3.06,"y":-2.58},{"p":"O2c","x":-3.48,"y":-2.38},
{"p":"O2d","x":-1.77,"y":3.49},{"p":"O2d","x":-1.55,"y":3.91},{"p":"O2d","x":-1.13,"y":4},{"p":"O2d","x":-0.58,"y":3.74},{"p":"O2d","x":-0.16,"y":3.31},{"p":"O2d","x":0.26,"y":2.64},{"p":"O2d","x":0.26,"y":2.03},{"p":"O2d","x":2,"y":2},{"p":"O2d","x":2.19,"y":2.47},{"p":"O2d","x":2.97,"y":2.54},{"p":"O2d","x":3.3,"y":2},{"p":"O2d","x":3.9,"y":1.6},{"p":"O2d","x":4.05,"y":0.9},{"p":"O2d","x":3.97,"y":-0.9},{"p":"O2d","x":3.81,"y":-1.24},{"p":"O2d","x":3.16,"y":-1.82},{"p":"O2d","x":2.74,"y":-2.18},{"p":"O2d","x":2.42,"y":-2.71},{"p":"O2d","x":2.1,"y":-2.51},{"p":"O2d","x":1.87,"y":-2.07},{"p":"O2d","x":1.23,"y":-1.57},{"p":"O2d","x":0.4,"y":-0.7},{"p":"O2d","x":-0.3,"y":0},{"p":"O2d","x":-1.2,"y":1},{"p":"O2d","x":-1.75,"y":2.2},
{"p":"O2e","x":3.35,"y":4.89},{"p":"O2e","x":3.81,"y":5.1},{"p":"O2e","x":4.35,"y":5.06},{"p":"O2e","x":4.84,"y":4.71},{"p":"O2e","x":4.77,"y":4.38},{"p":"O2e","x":4.13,"y":4.25},{"p":"O2e","x":3.65,"y":4.43},
{"p":"O2f","x":6.94,"y":4.33},{"p":"O2f","x":7,"y":4.12},{"p":"O2f","x":6.61,"y":3.65},{"p":"O2f","x":6.19,"y":3.44},{"p":"O2f","x":5.71,"y":3.15},{"p":"O2f","x":5.55,"y":2.54},{"p":"O2f","x":5.65,"y":2.03},{"p":"O2f","x":5.55,"y":1.7},{"p":"O2f","x":5.1,"y":1.83},{"p":"O2f","x":4.68,"y":2.29},{"p":"O2f","x":4.61,"y":2.64},{"p":"O2f","x":4.9,"y":2.9},{"p":"O2f","x":5.42,"y":3.1},{"p":"O2f","x":5.58,"y":3.41},{"p":"O2f","x":5.87,"y":3.79},{"p":"O2f","x":6.61,"y":3.91},
{"p":"O2g","x":6.94,"y":5.1},{"p":"O2g","x":7.68,"y":5.63},{"p":"O2g","x":7.8,"y":5.53},{"p":"O2g","x":7.58,"y":5.27},{"p":"O2g","x":7.1,"y":4.89},{"p":"O2g","x":6.96,"y":4.95},
{"p":"O2h","x":5.74,"y":1.24},{"p":"O2h","x":5.9,"y":1.37},{"p":"O2h","x":6.13,"y":1.06},{"p":"O2h","x":6.03,"y":0.89},{"p":"O2h","x":5.81,"y":1.01},
{"p":"O1r1","x":0.7,"y":0.55},{"p":"O1r1","x":0.9,"y":0.55},{"p":"O1r1","x":1.42,"y":-0.29},{"p":"O1r1","x":1.2,"y":-0.2},
{"p":"O1r2","x":2.26,"y":0.12},{"p":"O1r2","x":2.38,"y":0.12},{"p":"O1r2","x":2.6,"y":-0.34},{"p":"O1r2","x":2.5,"y":-0.34},
{"p":"O1r3","x":1.5,"y":-0.5},{"p":"O1r3","x":1.6,"y":-0.5},{"p":"O1r3","x":1.87,"y":-0.85},{"p":"O1r3","x":1.78,"y":-0.9},
{"p":"O1r4","x":2.1,"y":-1.1},{"p":"O1r4","x":2.58,"y":-0.93},{"p":"O1r4","x":2.64,"y":-1.24},{"p":"O1r4","x":2.36,"y":-1.44},
{"p":"O1r5","x":2.97,"y":-1.36},{"p":"O1r5","x":3.23,"y":-0.98},{"p":"O1r5","x":3.45,"y":-0.8},{"p":"O1r5","x":3.29,"y":-1.18},
{"p":"O1r6","x":1.45,"y":1.27},{"p":"O1r6","x":1.68,"y":1.62},{"p":"O1r6","x":1.94,"y":1.2},{"p":"O1r6","x":1.94,"y":0.95},{"p":"O1r6","x":1.68,"y":1.1},
{"p":"O1r7","x":0.16,"y":1.96},{"p":"O1r7","x":0.58,"y":0.5},{"p":"O1r7","x":0.7,"y":0.45},{"p":"O1r7","x":0.3,"y":2},
{"p":"O1r8","x":-1.45,"y":3.31},{"p":"O1r8","x":-1.29,"y":3.44},{"p":"O1r8","x":-1.06,"y":3.05},{"p":"O1r8","x":-1.22,"y":2.9},
{"p":"O1r9","x":-1,"y":2.9},{"p":"O1r9","x":-0.85,"y":2.9},{"p":"O1r9","x":-0.5,"y":1.9},{"p":"O1r9","x":-0.7,"y":1.9},
{"p":"O1s","x":-2.6,"y":-2.55},{"p":"O1s","x":-2.35,"y":-2.55},{"p":"O1s","x":-2.3,"y":-2.8},{"p":"O1s","x":-2.5,"y":-2.78},
{"p":"O3a","x":-4.03,"y":-0.24},{"p":"O3a","x":-3.87,"y":-0.39},{"p":"O3a","x":-3.81,"y":-0.67},{"p":"O3a","x":-3.94,"y":-0.9},{"p":"O3a","x":-4.13,"y":-0.54},
{"p":"O3b","x":-2.39,"y":-1.95},{"p":"O3b","x":-2.16,"y":-1.87},{"p":"O3b","x":-2.03,"y":-2.05},{"p":"O3b","x":-2.16,"y":-2.15},{"p":"O3b","x":-2.33,"y":-2.03},
{"p":"O3c","x":3.55,"y":4.76},{"p":"O3c","x":3.81,"y":4.89},{"p":"O3c","x":4.26,"y":4.79},{"p":"O3c","x":4.42,"y":4.56},{"p":"O3c","x":4.03,"y":4.43},{"p":"O3c","x":3.65,"y":4.56},
{"p":"O3d","x":5.06,"y":2.82},{"p":"O3d","x":5.42,"y":2.72},{"p":"O3d","x":5.48,"y":2.21},{"p":"O3d","x":5.32,"y":2},{"p":"O3d","x":4.9,"y":2.26},{"p":"O3d","x":4.77,"y":2.54},
{"p":"O4a","x":5.1,"y":2.52},{"p":"O4a","x":5.2,"y":2.4},{"p":"O4a","x":5.1,"y":2.28},{"p":"O4a","x":5,"y":2.4},
{"p":"DBa","x":-2.5,"y":2.6},{"p":"DBa","x":-2,"y":2.7},{"p":"DBa","x":-1.2,"y":1.6},{"p":"DBa","x":-0.5,"y":0.6},{"p":"DBa","x":0.4,"y":-0.4},{"p":"DBa","x":0.9,"y":-1.2},{"p":"DBa","x":1.1,"y":-2.1},{"p":"DBa","x":0.7,"y":-2.7},{"p":"DBa","x":-0.2,"y":-2.7},{"p":"DBa","x":-0.8,"y":-1.8},{"p":"DBa","x":-1.6,"y":-0.9},{"p":"DBa","x":-2.6,"y":-0.2},{"p":"DBa","x":-2.95,"y":0.9},{"p":"DBa","x":-3,"y":1.8},
{"p":"DBb","x":3.1,"y":2.3},{"p":"DBb","x":3.8,"y":2.1},{"p":"DBb","x":4.4,"y":1},{"p":"DBb","x":4.5,"y":0.1},{"p":"DBb","x":4.05,"y":-0.3},{"p":"DBb","x":3.3,"y":0},{"p":"DBb","x":2.7,"y":0.8},{"p":"DBb","x":2.6,"y":1.6},
{"p":"DOa","x":-2.1,"y":2.4},{"p":"DOa","x":-1.5,"y":2.3},{"p":"DOa","x":-0.9,"y":1.3},{"p":"DOa","x":-0.3,"y":0.4},{"p":"DOa","x":0.7,"y":-0.3},{"p":"DOa","x":1.05,"y":-1},{"p":"DOa","x":0.8,"y":-1.9},{"p":"DOa","x":0,"y":-2},{"p":"DOa","x":-0.6,"y":-1.3},{"p":"DOa","x":-1.2,"y":-0.2},{"p":"DOa","x":-1.9,"y":0.6},{"p":"DOa","x":-2.2,"y":1.6},
{"p":"DOb","x":2.9,"y":1.9},{"p":"DOb","x":3.5,"y":1.7},{"p":"DOb","x":3.9,"y":0.9},{"p":"DOb","x":3.8,"y":0.2},{"p":"DOb","x":3.3,"y":0.2},{"p":"DOb","x":2.8,"y":0.9},
{"p":"DOc","x":-0.3,"y":-0.3},{"p":"DOc","x":0.5,"y":-0.5},{"p":"DOc","x":0.8,"y":-1.2},{"p":"DOc","x":0.55,"y":-1.9},{"p":"DOc","x":-0.1,"y":-1.8},{"p":"DOc","x":-0.5,"y":-1.2}
]},"transform":[{"window":[{"op":"row_number","as":"i"}]}],"mark":{"type":"line","strokeWidth":0},"encoding":{"detail":{"field":"p"},"order":{"field":"i","type":"quantitative"},"fill":{"field":"p","type":"nominal","legend":null,"scale":{"domain":["B1a","B1b","B1c","B1d","B1e","B1f","B2a","B2b","B2c","B2d","B2h","B3a","B3b","B3c","B3d","B3e","B3f","B3g","B4a","O1a","O1b","O1c","O1d","O1r1","O1r2","O1r3","O1r4","O1r5","O1r6","O1r7","O1r8","O1r9","O1s","O2a","O2b","O2c","O2d","O2e","O2f","O2g","O2h","O3a","O3b","O3c","O3d","O4a","DBa","DBb","DOa","DOb","DOc"],"range":["#d2e4ef","#d2e4ef","#d2e4ef","#d2e4ef","#d2e4ef","#d2e4ef","#a1c9e1","#a1c9e1","#a1c9e1","#a1c9e1","#a1c9e1","#659fcb","#659fcb","#659fcb","#659fcb","#659fcb","#659fcb","#659fcb","#4c7fb0","#fcdccb","#fcdccb","#fcdccb","#fcdccb","#fcdccb","#fcdccb","#fcdccb","#fcdccb","#fcdccb","#fcdccb","#fcdccb","#fcdccb","#fcdccb","#fcdccb","#f1a88f","#f1a88f","#f1a88f","#f1a88f","#f1a88f","#f1a88f","#f1a88f","#f1a88f","#d0625e","#d0625e","#d0625e","#d0625e","#a62c52","#2c7fb4","#3a86b4","#ee8a3a","#e99043","#ff7f0e"]}}}},
{"data":{"values":[
{"x":-7.67,"y":-4.16,"s":"T1 event"},{"x":-5.67,"y":-0.82,"s":"T1 event"},{"x":-5.46,"y":-0.76,"s":"T1 event"},{"x":-5.32,"y":-0.72,"s":"T1 event"},{"x":-4.89,"y":-0.3,"s":"T1 event"},{"x":-4.84,"y":-0.42,"s":"T1 event"},{"x":-4.59,"y":-0.52,"s":"T1 event"},{"x":-4.73,"y":-0.76,"s":"T1 event"},{"x":-4.68,"y":-0.9,"s":"T1 event"},{"x":-4.57,"y":-0.9,"s":"T1 event"},{"x":-4.97,"y":-0.94,"s":"T1 event"},{"x":-4.89,"y":-1.06,"s":"T1 event"},{"x":-4.78,"y":-1.15,"s":"T1 event"},{"x":-4.52,"y":-1.15,"s":"T1 event"},{"x":-4.94,"y":-1.36,"s":"T1 event"},{"x":-4.62,"y":-1.4,"s":"T1 event"},{"x":-4.71,"y":-1.76,"s":"T1 event"},{"x":-4.73,"y":-1.89,"s":"T1 event"},{"x":-4.87,"y":-1.9,"s":"T1 event"},{"x":-4.3,"y":-1.76,"s":"T1 event"},{"x":-4.06,"y":-1.53,"s":"T1 event"},{"x":-3.55,"y":-1.51,"s":"T1 event"},{"x":-3.5,"y":-0.03,"s":"T1 event"},{"x":-3.17,"y":-0.06,"s":"T1 event"},{"x":-3.33,"y":-0.37,"s":"T1 event"},{"x":-3.26,"y":-0.85,"s":"T1 event"},{"x":-3,"y":-1.33,"s":"T1 event"},{"x":-3.06,"y":-1.67,"s":"T1 event"},{"x":-2.64,"y":-1.23,"s":"T1 event"},{"x":-4.08,"y":-2.04,"s":"T1 event"},{"x":-3.84,"y":-2.04,"s":"T1 event"},{"x":-4.32,"y":-1.9,"s":"T1 event"},{"x":-3.5,"y":-2.32,"s":"T1 event"},{"x":-3.15,"y":-2.58,"s":"T1 event"},{"x":-3.31,"y":-2.7,"s":"T1 event"},{"x":-3.14,"y":-2.98,"s":"T1 event"},{"x":-3.09,"y":-3.15,"s":"T1 event"},{"x":-3.36,"y":-3.09,"s":"T1 event"},{"x":-3.49,"y":-3.06,"s":"T1 event"},{"x":-3.17,"y":-3.29,"s":"T1 event"},{"x":-3.47,"y":-3.4,"s":"T1 event"},{"x":-3.74,"y":-3.47,"s":"T1 event"},{"x":-2.84,"y":-3.3,"s":"T1 event"},{"x":-2.93,"y":-3.4,"s":"T1 event"},{"x":-2.05,"y":-3.46,"s":"T1 event"},{"x":-2.31,"y":-2.55,"s":"T1 event"},{"x":-2.52,"y":-2.66,"s":"T1 event"},{"x":-2.47,"y":-1.87,"s":"T1 event"},{"x":-4.19,"y":-2.85,"s":"T1 event"},{"x":-4.1,"y":-2.78,"s":"T1 event"},{"x":-4,"y":-2.72,"s":"T1 event"},{"x":-3.9,"y":-2.75,"s":"T1 event"},{"x":-4.11,"y":-3.02,"s":"T1 event"},{"x":-3.97,"y":-2.93,"s":"T1 event"},{"x":-3.83,"y":-2.88,"s":"T1 event"},{"x":-4.04,"y":-3.12,"s":"T1 event"},{"x":-3.9,"y":-3.06,"s":"T1 event"},{"x":-3.77,"y":-3.2,"s":"T1 event"},{"x":-3.97,"y":-3.29,"s":"T1 event"},{"x":-3.86,"y":-3.23,"s":"T1 event"},
{"x":-2.61,"y":3.59,"s":"T1 event"},{"x":-2.42,"y":3.57,"s":"T1 event"},{"x":-2.2,"y":3.38,"s":"T1 event"},{"x":-2.37,"y":3.3,"s":"T1 event"},{"x":-1.88,"y":3.33,"s":"T1 event"},{"x":-3.12,"y":3.13,"s":"T1 event"},{"x":-3.01,"y":3.02,"s":"T1 event"},{"x":-3.17,"y":2.93,"s":"T1 event"},{"x":-2.96,"y":2.85,"s":"T1 event"},{"x":-3.1,"y":2.76,"s":"T1 event"},{"x":-2.74,"y":2.93,"s":"T1 event"},{"x":-2.63,"y":2.72,"s":"T1 event"},{"x":-2.52,"y":3.05,"s":"T1 event"},{"x":-3.27,"y":1.91,"s":"T1 event"},{"x":-3.6,"y":1.7,"s":"T1 event"},{"x":-3.01,"y":1.53,"s":"T1 event"},{"x":-3.17,"y":1.4,"s":"T1 event"},{"x":-3.33,"y":0.75,"s":"T1 event"},{"x":-2.85,"y":2.2,"s":"T1 event"},{"x":-2.95,"y":2.3,"s":"T1 event"},{"x":-2.8,"y":2.47,"s":"T1 event"},{"x":-2.58,"y":2.55,"s":"T1 event"},{"x":-2.3,"y":2.63,"s":"T1 event"},{"x":-2.86,"y":1.88,"s":"T1 event"},{"x":-2.7,"y":1.53,"s":"T1 event"},{"x":-2.7,"y":1.2,"s":"T1 event"},{"x":-2.55,"y":0.75,"s":"T1 event"},{"x":-2.4,"y":0.83,"s":"T1 event"},
{"x":0.91,"y":5.12,"s":"T1 event"},{"x":1.42,"y":4.58,"s":"T1 event"},{"x":2.69,"y":4.78,"s":"T1 event"},{"x":2.87,"y":4.7,"s":"T1 event"},{"x":1.88,"y":4.44,"s":"T1 event"},{"x":2.1,"y":4.32,"s":"T1 event"},{"x":2.26,"y":4.3,"s":"T1 event"},{"x":2.74,"y":4.08,"s":"T1 event"},{"x":2.01,"y":4.07,"s":"T1 event"},{"x":3.17,"y":4.17,"s":"T1 event"},{"x":3.39,"y":4.1,"s":"T1 event"},{"x":3.6,"y":4.1,"s":"T1 event"},{"x":3.71,"y":4,"s":"T1 event"},{"x":3.87,"y":4,"s":"T1 event"},{"x":4.39,"y":4,"s":"T1 event"},{"x":4.71,"y":3.94,"s":"T1 event"},{"x":4.22,"y":3.87,"s":"T1 event"},{"x":4.41,"y":3.71,"s":"T1 event"},{"x":4.79,"y":3.61,"s":"T1 event"},{"x":1.94,"y":3.95,"s":"T1 event"},{"x":2.15,"y":3.82,"s":"T1 event"},{"x":2.31,"y":4.03,"s":"T1 event"},{"x":1.83,"y":3.66,"s":"T1 event"},{"x":1.72,"y":3.44,"s":"T1 event"},{"x":2.42,"y":3.46,"s":"T1 event"},{"x":2.58,"y":3.36,"s":"T1 event"},{"x":2.74,"y":3.53,"s":"T1 event"},{"x":3.01,"y":3.74,"s":"T1 event"},{"x":3.23,"y":3.83,"s":"T1 event"},{"x":3.6,"y":3.74,"s":"T1 event"},{"x":3.39,"y":3.57,"s":"T1 event"},{"x":3.82,"y":3.83,"s":"T1 event"},{"x":3.93,"y":3.36,"s":"T1 event"},{"x":4.25,"y":3.36,"s":"T1 event"},{"x":4.68,"y":3.31,"s":"T1 event"},{"x":4.41,"y":3.1,"s":"T1 event"},{"x":4.03,"y":2.98,"s":"T1 event"},{"x":4.25,"y":2.93,"s":"T1 event"},{"x":2.04,"y":2.99,"s":"T1 event"},{"x":2.31,"y":3.15,"s":"T1 event"},{"x":2.26,"y":3.1,"s":"T1 event"},{"x":2.42,"y":3,"s":"T1 event"},{"x":2.63,"y":2.99,"s":"T1 event"},{"x":0.86,"y":2.53,"s":"T1 event"},{"x":1.81,"y":2.58,"s":"T1 event"},{"x":2,"y":2.57,"s":"T1 event"},{"x":2.31,"y":2.6,"s":"T1 event"},{"x":2.74,"y":2.8,"s":"T1 event"},{"x":3.06,"y":2.9,"s":"T1 event"},{"x":6.2,"y":4.7,"s":"T1 event"},{"x":6.72,"y":4.59,"s":"T1 event"},{"x":6.42,"y":4.29,"s":"T1 event"},{"x":6.2,"y":2.47,"s":"T1 event"},{"x":4.71,"y":2.55,"s":"T1 event"},{"x":0.89,"y":2.3,"s":"T1 event"},{"x":0.75,"y":2.15,"s":"T1 event"},{"x":0.59,"y":2.02,"s":"T1 event"},{"x":-0.16,"y":2.2,"s":"T1 event"},{"x":-0.48,"y":2.04,"s":"T1 event"},{"x":0.11,"y":2.37,"s":"T1 event"},{"x":0.38,"y":1.64,"s":"T1 event"},{"x":1.67,"y":2.25,"s":"T1 event"},{"x":2.31,"y":2.13,"s":"T1 event"},{"x":2.63,"y":2.13,"s":"T1 event"},{"x":2.04,"y":1.88,"s":"T1 event"},{"x":1.67,"y":1.62,"s":"T1 event"},{"x":1.78,"y":1.53,"s":"T1 event"},{"x":2.2,"y":1.49,"s":"T1 event"},{"x":2.42,"y":1.45,"s":"T1 event"},{"x":1.72,"y":1.19,"s":"T1 event"},{"x":1.88,"y":1.1,"s":"T1 event"},{"x":2.15,"y":0.93,"s":"T1 event"},{"x":0.81,"y":0.64,"s":"T1 event"},{"x":-0.16,"y":0.85,"s":"T1 event"},{"x":0.16,"y":0.85,"s":"T1 event"},{"x":-0.27,"y":1.02,"s":"T1 event"},
{"x":1.4,"y":0.15,"s":"T1 event"},{"x":0.95,"y":0.26,"s":"T1 event"},{"x":1.03,"y":0.17,"s":"T1 event"},{"x":1.18,"y":-0.13,"s":"T1 event"},{"x":1.81,"y":-0.81,"s":"T1 event"},{"x":2.01,"y":-0.79,"s":"T1 event"},{"x":2.47,"y":-1,"s":"T1 event"},{"x":2.66,"y":-1.17,"s":"T1 event"},{"x":2.23,"y":-1.42,"s":"T1 event"},{"x":3.12,"y":-1.49,"s":"T1 event"},{"x":2.74,"y":-0.21,"s":"T1 event"},{"x":3.01,"y":-0.64,"s":"T1 event"},{"x":3.33,"y":-0.81,"s":"T1 event"},{"x":3.22,"y":-0.98,"s":"T1 event"},{"x":3.41,"y":-0.55,"s":"T1 event"},{"x":3.76,"y":-0.85,"s":"T1 event"},{"x":3.9,"y":-1.36,"s":"T1 event"},{"x":4.2,"y":-1.23,"s":"T1 event"},{"x":3.76,"y":-1.23,"s":"T1 event"},{"x":4.44,"y":-1.67,"s":"T1 event"},{"x":4.39,"y":-0.96,"s":"T1 event"},{"x":4.57,"y":-0.98,"s":"T1 event"},{"x":4.84,"y":-1.1,"s":"T1 event"},{"x":5.03,"y":-0.94,"s":"T1 event"},{"x":5.11,"y":-0.27,"s":"T1 event"},{"x":4.62,"y":-0.25,"s":"T1 event"},{"x":4.68,"y":0.47,"s":"T1 event"},{"x":4.9,"y":0.42,"s":"T1 event"},{"x":1.61,"y":-1.87,"s":"T1 event"},{"x":1.82,"y":-2.12,"s":"T1 event"},{"x":1.99,"y":-2.38,"s":"T1 event"},{"x":1.83,"y":-2.6,"s":"T1 event"},{"x":1.67,"y":-2.72,"s":"T1 event"},{"x":1.88,"y":-3.04,"s":"T1 event"},{"x":1.5,"y":-2.97,"s":"T1 event"},{"x":1.67,"y":-3.23,"s":"T1 event"},{"x":1.29,"y":-3.34,"s":"T1 event"},{"x":1.53,"y":-3.4,"s":"T1 event"},{"x":0.97,"y":-3.53,"s":"T1 event"},{"x":0.54,"y":-3.4,"s":"T1 event"},{"x":0.27,"y":-3.02,"s":"T1 event"},{"x":0.48,"y":-3.06,"s":"T1 event"},{"x":1.18,"y":-2.72,"s":"T1 event"},{"x":0.92,"y":-2.72,"s":"T1 event"},{"x":1.29,"y":-2.47,"s":"T1 event"},{"x":1.45,"y":-2.35,"s":"T1 event"},{"x":1.72,"y":-2.33,"s":"T1 event"},{"x":1.88,"y":-2.25,"s":"T1 event"},
{"x":-2.8,"y":2.5,"s":"T1 event"},{"x":-2.5,"y":2.8,"s":"T1 event"},{"x":-2.2,"y":2.9,"s":"T1 event"},{"x":-2.6,"y":2.3,"s":"T1 event"},{"x":-3,"y":2,"s":"T1 event"},{"x":-2.9,"y":1.6,"s":"T1 event"},{"x":-3.1,"y":1.2,"s":"T1 event"},{"x":-2.9,"y":0.9,"s":"T1 event"},{"x":-2.7,"y":0.6,"s":"T1 event"},{"x":-3,"y":0.4,"s":"T1 event"},{"x":-2.6,"y":0.2,"s":"T1 event"},{"x":-2.8,"y":0,"s":"T1 event"},{"x":-2.4,"y":-0.2,"s":"T1 event"},{"x":-2.5,"y":-0.5,"s":"T1 event"},{"x":-2.2,"y":-0.6,"s":"T1 event"},{"x":-2,"y":-0.8,"s":"T1 event"},{"x":-1.7,"y":-1,"s":"T1 event"},{"x":-2.3,"y":-0.9,"s":"T1 event"},{"x":-1.5,"y":-1.3,"s":"T1 event"},{"x":-1.3,"y":-1.5,"s":"T1 event"},{"x":-1.1,"y":-1.8,"s":"T1 event"},{"x":-1.4,"y":-1.9,"s":"T1 event"},{"x":-0.9,"y":-2.1,"s":"T1 event"},{"x":-1,"y":-2.4,"s":"T1 event"},{"x":-0.7,"y":-2.6,"s":"T1 event"},{"x":-0.5,"y":-2.9,"s":"T1 event"},{"x":-0.2,"y":-3,"s":"T1 event"},{"x":0,"y":-2.8,"s":"T1 event"},{"x":0.3,"y":-2.8,"s":"T1 event"},{"x":0.6,"y":-2.8,"s":"T1 event"},{"x":0.9,"y":-2.6,"s":"T1 event"},{"x":1.1,"y":-2.4,"s":"T1 event"},{"x":1.2,"y":-2,"s":"T1 event"},{"x":0.8,"y":-2.9,"s":"T1 event"},{"x":-0.3,"y":-3.2,"s":"T1 event"},{"x":0.1,"y":-3.1,"s":"T1 event"},{"x":1,"y":-2,"s":"T1 event"},{"x":1.3,"y":-1.6,"s":"T1 event"},{"x":1.4,"y":-1.9,"s":"T1 event"},{"x":0.5,"y":-3,"s":"T1 event"},{"x":-0.9,"y":-1.2,"s":"T1 event"},
{"x":3,"y":2.6,"s":"T1 event"},{"x":3.3,"y":2.7,"s":"T1 event"},{"x":3.6,"y":2.6,"s":"T1 event"},{"x":3.9,"y":2.4,"s":"T1 event"},{"x":4.1,"y":2,"s":"T1 event"},{"x":4.3,"y":1.6,"s":"T1 event"},{"x":4.5,"y":1.2,"s":"T1 event"},{"x":4.6,"y":0.8,"s":"T1 event"},{"x":4.7,"y":0.4,"s":"T1 event"},{"x":4.5,"y":0,"s":"T1 event"},{"x":4.3,"y":-0.2,"s":"T1 event"},{"x":4.1,"y":-0.5,"s":"T1 event"},{"x":3.9,"y":-0.4,"s":"T1 event"},{"x":3.5,"y":-0.3,"s":"T1 event"},{"x":3.1,"y":-0.2,"s":"T1 event"},{"x":2.8,"y":0.2,"s":"T1 event"},{"x":2.6,"y":0.5,"s":"T1 event"},{"x":2.5,"y":1,"s":"T1 event"},{"x":2.4,"y":1.5,"s":"T1 event"},{"x":2.6,"y":2,"s":"T1 event"},{"x":2.8,"y":2.3,"s":"T1 event"},{"x":2.9,"y":3,"s":"T1 event"},{"x":3.2,"y":3.1,"s":"T1 event"},{"x":3.5,"y":3.1,"s":"T1 event"},{"x":3.7,"y":2.9,"s":"T1 event"},{"x":3.4,"y":3.4,"s":"T1 event"},{"x":3,"y":3.4,"s":"T1 event"},{"x":4.5,"y":0.5,"s":"T1 event"},{"x":4.4,"y":0.9,"s":"T1 event"},{"x":4.6,"y":1.5,"s":"T1 event"},{"x":4.2,"y":1.1,"s":"T1 event"},{"x":3.9,"y":1.3,"s":"T1 event"},{"x":3.6,"y":1.9,"s":"T1 event"},{"x":3.3,"y":2.2,"s":"T1 event"},
{"x":-3.2,"y":2.4,"s":"T1 event"},{"x":-3.15,"y":1.9,"s":"T1 event"},{"x":-3.3,"y":1.6,"s":"T1 event"},{"x":-3.2,"y":0.9,"s":"T1 event"},{"x":-3.15,"y":0.6,"s":"T1 event"},{"x":-3.25,"y":0.2,"s":"T1 event"},{"x":-3,"y":-0.1,"s":"T1 event"},{"x":-2.95,"y":-0.35,"s":"T1 event"},{"x":-2.75,"y":-0.45,"s":"T1 event"},{"x":-2.7,"y":-0.75,"s":"T1 event"},{"x":-2.5,"y":-0.95,"s":"T1 event"},{"x":-2.15,"y":-1.05,"s":"T1 event"},{"x":-1.95,"y":-1.2,"s":"T1 event"},{"x":-1.75,"y":-1.4,"s":"T1 event"},{"x":-1.65,"y":-1.55,"s":"T1 event"},{"x":-1.25,"y":-2.05,"s":"T1 event"},{"x":-1.2,"y":-2.2,"s":"T1 event"},{"x":-1.05,"y":-2.7,"s":"T1 event"},{"x":-0.85,"y":-2.9,"s":"T1 event"},{"x":-0.6,"y":-3.1,"s":"T1 event"},{"x":-3.05,"y":2.6,"s":"T1 event"},{"x":-2.95,"y":2.75,"s":"T1 event"},{"x":-2.75,"y":2.8,"s":"T1 event"},{"x":-2.35,"y":3,"s":"T1 event"},{"x":-2,"y":3,"s":"T1 event"},{"x":-1.75,"y":2.85,"s":"T1 event"},{"x":-1.6,"y":2.55,"s":"T1 event"},{"x":-1.3,"y":2.05,"s":"T1 event"},{"x":-1.05,"y":1.7,"s":"T1 event"},{"x":-0.8,"y":1.3,"s":"T1 event"},{"x":-0.55,"y":1,"s":"T1 event"},{"x":-0.2,"y":0.6,"s":"T1 event"},{"x":0.1,"y":0.35,"s":"T1 event"},{"x":0.45,"y":0.05,"s":"T1 event"},{"x":0.8,"y":-0.25,"s":"T1 event"},{"x":1.05,"y":-0.7,"s":"T1 event"},{"x":1.3,"y":-1.1,"s":"T1 event"},{"x":1.25,"y":-1.45,"s":"T1 event"},{"x":1.45,"y":-1.4,"s":"T1 event"},{"x":1.15,"y":-2.25,"s":"T1 event"},{"x":1,"y":-2.75,"s":"T1 event"},{"x":0.35,"y":-3,"s":"T1 event"},{"x":-0.05,"y":-2.95,"s":"T1 event"},{"x":-0.4,"y":-2.75,"s":"T1 event"},{"x":-2,"y":2.2,"s":"T1 event"},{"x":-1.8,"y":1.8,"s":"T1 event"},{"x":-1.5,"y":1.7,"s":"T1 event"},{"x":-1.9,"y":1.3,"s":"T1 event"},{"x":-1.55,"y":1,"s":"T1 event"},{"x":-1.25,"y":0.95,"s":"T1 event"},{"x":-1.6,"y":0.55,"s":"T1 event"},{"x":-1.15,"y":0.45,"s":"T1 event"},{"x":-0.85,"y":0.65,"s":"T1 event"},{"x":-0.6,"y":0.4,"s":"T1 event"},{"x":-0.9,"y":0.05,"s":"T1 event"},{"x":-0.55,"y":-0.1,"s":"T1 event"},{"x":-0.25,"y":-0.05,"s":"T1 event"},{"x":0.2,"y":-0.2,"s":"T1 event"},{"x":0.55,"y":-0.45,"s":"T1 event"},{"x":0.85,"y":-0.75,"s":"T1 event"},{"x":0.95,"y":-1.25,"s":"T1 event"},{"x":0.75,"y":-1.7,"s":"T1 event"},{"x":0.5,"y":-2.05,"s":"T1 event"},{"x":0.05,"y":-1.95,"s":"T1 event"},{"x":-0.35,"y":-1.7,"s":"T1 event"},{"x":-0.55,"y":-1.1,"s":"T1 event"},{"x":-0.75,"y":-0.6,"s":"T1 event"},{"x":-1.1,"y":-0.1,"s":"T1 event"},{"x":-1.45,"y":0.25,"s":"T1 event"},{"x":3.1,"y":1.7,"s":"T1 event"},{"x":3.4,"y":1.5,"s":"T1 event"},{"x":3.2,"y":0.8,"s":"T1 event"},{"x":3.55,"y":1.1,"s":"T1 event"},{"x":3.5,"y":0.35,"s":"T1 event"},{"x":3.7,"y":1.05,"s":"T1 event"},{"x":2.95,"y":1.3,"s":"T1 event"},{"x":3.8,"y":0.5,"s":"T1 event"},{"x":2.35,"y":0.75,"s":"T1 event"},{"x":2.3,"y":1.2,"s":"T1 event"},{"x":2.3,"y":1.8,"s":"T1 event"},{"x":2.5,"y":2.3,"s":"T1 event"},{"x":4.6,"y":1.9,"s":"T1 event"},{"x":4.8,"y":1,"s":"T1 event"},{"x":4.8,"y":0.1,"s":"T1 event"},{"x":4.55,"y":-0.4,"s":"T1 event"},{"x":4.35,"y":-0.55,"s":"T1 event"},{"x":3.7,"y":-0.55,"s":"T1 event"},{"x":3.25,"y":-0.45,"s":"T1 event"},{"x":2.95,"y":-0.25,"s":"T1 event"},{"x":2.55,"y":0.2,"s":"T1 event"},
{"x":-6.13,"y":-1.31,"s":"No T1 event"},{"x":-4.84,"y":-2.23,"s":"No T1 event"},{"x":-4.57,"y":-2.1,"s":"No T1 event"},{"x":-5.12,"y":-2.35,"s":"No T1 event"},{"x":-4.95,"y":-2.15,"s":"No T1 event"},{"x":-4.68,"y":-2.17,"s":"No T1 event"},{"x":-4.73,"y":-2.25,"s":"No T1 event"},{"x":-5.2,"y":-2.55,"s":"No T1 event"},{"x":-5.02,"y":-2.52,"s":"No T1 event"},{"x":-4.65,"y":-0.17,"s":"No T1 event"},{"x":-4.46,"y":-0.51,"s":"No T1 event"},{"x":-4.37,"y":-0.8,"s":"No T1 event"},{"x":-4.62,"y":-0.94,"s":"No T1 event"},{"x":-3.87,"y":-0.76,"s":"No T1 event"},{"x":-3.58,"y":-0.47,"s":"No T1 event"},{"x":-7.58,"y":-4.19,"s":"No T1 event"},{"x":-2.52,"y":-1.62,"s":"No T1 event"},{"x":-2.1,"y":-1.74,"s":"No T1 event"},{"x":-1.77,"y":-2,"s":"No T1 event"},{"x":-2,"y":-2.34,"s":"No T1 event"},{"x":-2.2,"y":-2.6,"s":"No T1 event"},{"x":-2.74,"y":-2.25,"s":"No T1 event"},{"x":-2.95,"y":-2.08,"s":"No T1 event"},{"x":-3.28,"y":-2.38,"s":"No T1 event"},{"x":-3.49,"y":-2.34,"s":"No T1 event"},{"x":-2.74,"y":-2.68,"s":"No T1 event"},{"x":-1.88,"y":-2.6,"s":"No T1 event"},{"x":-1.67,"y":-2.81,"s":"No T1 event"},{"x":-2.31,"y":-2.85,"s":"No T1 event"},{"x":-2.58,"y":-3.19,"s":"No T1 event"},{"x":-2.69,"y":-3.6,"s":"No T1 event"},{"x":-2.85,"y":-3.53,"s":"No T1 event"},{"x":-1.29,"y":-3.33,"s":"No T1 event"},{"x":-3.65,"y":-3.44,"s":"No T1 event"},{"x":-3.49,"y":-3.4,"s":"No T1 event"},{"x":-1.98,"y":-2.15,"s":"No T1 event"},
{"x":-1.9,"y":3.6,"s":"No T1 event"},{"x":-1.5,"y":3.8,"s":"No T1 event"},{"x":-1.2,"y":3.95,"s":"No T1 event"},{"x":-1.7,"y":3.2,"s":"No T1 event"},{"x":-1.45,"y":2.9,"s":"No T1 event"},{"x":-0.9,"y":3.5,"s":"No T1 event"},{"x":-0.7,"y":3.1,"s":"No T1 event"},{"x":-0.5,"y":3.4,"s":"No T1 event"},{"x":-0.3,"y":2.9,"s":"No T1 event"},{"x":-0.4,"y":2.5,"s":"No T1 event"},{"x":0,"y":2.7,"s":"No T1 event"},{"x":-0.1,"y":2.1,"s":"No T1 event"},{"x":-1.05,"y":2.5,"s":"No T1 event"},{"x":-0.7,"y":1.6,"s":"No T1 event"},{"x":-0.35,"y":1.3,"s":"No T1 event"},{"x":0.1,"y":1.5,"s":"No T1 event"},{"x":0.45,"y":1.9,"s":"No T1 event"},{"x":0.9,"y":1.8,"s":"No T1 event"},{"x":1.3,"y":2.1,"s":"No T1 event"},{"x":1,"y":1.3,"s":"No T1 event"},{"x":0.85,"y":0.9,"s":"No T1 event"},{"x":1.3,"y":0.8,"s":"No T1 event"},{"x":1.25,"y":1.5,"s":"No T1 event"},{"x":1.6,"y":0.6,"s":"No T1 event"},{"x":1.9,"y":0.35,"s":"No T1 event"},{"x":2.2,"y":0.7,"s":"No T1 event"},{"x":2.5,"y":0.2,"s":"No T1 event"},{"x":2.1,"y":1.7,"s":"No T1 event"},{"x":2.3,"y":1.85,"s":"No T1 event"},{"x":0.3,"y":0.6,"s":"No T1 event"},{"x":-0.1,"y":0.7,"s":"No T1 event"},{"x":1.55,"y":-0.1,"s":"No T1 event"},{"x":1.85,"y":-0.3,"s":"No T1 event"},{"x":2.1,"y":-0.6,"s":"No T1 event"},{"x":2.8,"y":-0.5,"s":"No T1 event"},{"x":3.1,"y":-0.4,"s":"No T1 event"},{"x":3.6,"y":-0.65,"s":"No T1 event"},{"x":3.85,"y":-0.8,"s":"No T1 event"},{"x":3.5,"y":-1.1,"s":"No T1 event"},{"x":3,"y":-1.1,"s":"No T1 event"},{"x":2.8,"y":-1.45,"s":"No T1 event"},{"x":2.5,"y":-1.7,"s":"No T1 event"},{"x":2.2,"y":-1.9,"s":"No T1 event"},{"x":1.9,"y":-1.45,"s":"No T1 event"},{"x":1.55,"y":-1.1,"s":"No T1 event"},{"x":1.4,"y":-0.55,"s":"No T1 event"},{"x":2.3,"y":-2.35,"s":"No T1 event"},{"x":2.23,"y":-3.02,"s":"No T1 event"},{"x":3.68,"y":-2,"s":"No T1 event"},{"x":3.97,"y":-1.6,"s":"No T1 event"},{"x":4.12,"y":-1.1,"s":"No T1 event"},{"x":4.05,"y":-2.05,"s":"No T1 event"},{"x":1.4,"y":-2.75,"s":"No T1 event"},{"x":0.55,"y":-3.55,"s":"No T1 event"},{"x":1.05,"y":-2.15,"s":"No T1 event"},{"x":1.25,"y":-2.2,"s":"No T1 event"},
{"x":4.2,"y":4.9,"s":"No T1 event"},{"x":3.7,"y":4.65,"s":"No T1 event"},{"x":3.2,"y":4.6,"s":"No T1 event"},{"x":2.85,"y":4.38,"s":"No T1 event"},{"x":3.5,"y":4.3,"s":"No T1 event"},{"x":4.45,"y":4.25,"s":"No T1 event"},{"x":5.25,"y":2.6,"s":"No T1 event"},{"x":5.5,"y":2.5,"s":"No T1 event"},{"x":5.4,"y":2.1,"s":"No T1 event"},{"x":5.05,"y":2.3,"s":"No T1 event"},{"x":4.75,"y":2.72,"s":"No T1 event"},{"x":4.6,"y":1.95,"s":"No T1 event"},{"x":5.2,"y":1.55,"s":"No T1 event"},{"x":5.45,"y":3.1,"s":"No T1 event"},{"x":5.95,"y":3.6,"s":"No T1 event"},{"x":6.3,"y":3.82,"s":"No T1 event"},{"x":6.5,"y":4.3,"s":"No T1 event"},{"x":6.8,"y":4.28,"s":"No T1 event"},{"x":6.55,"y":4.95,"s":"No T1 event"},{"x":7.05,"y":5.1,"s":"No T1 event"},{"x":7.25,"y":5.2,"s":"No T1 event"},{"x":7.55,"y":5.5,"s":"No T1 event"},
{"x":-2.2,"y":2.3,"s":"No T1 event"},{"x":-2,"y":2.7,"s":"No T1 event"},{"x":-1.7,"y":2.5,"s":"No T1 event"},{"x":-1.4,"y":2.2,"s":"No T1 event"},{"x":-1.2,"y":1.9,"s":"No T1 event"},{"x":-1,"y":1.5,"s":"No T1 event"},{"x":-0.8,"y":1.2,"s":"No T1 event"},{"x":-0.5,"y":0.8,"s":"No T1 event"},{"x":-0.3,"y":0.5,"s":"No T1 event"},{"x":0,"y":0.2,"s":"No T1 event"},{"x":0.3,"y":0,"s":"No T1 event"},{"x":0.6,"y":-0.2,"s":"No T1 event"},{"x":0.9,"y":-0.5,"s":"No T1 event"},{"x":1.1,"y":-0.9,"s":"No T1 event"},{"x":1.2,"y":-1.3,"s":"No T1 event"},{"x":1,"y":-1.7,"s":"No T1 event"},{"x":0.8,"y":-2.2,"s":"No T1 event"},{"x":0.4,"y":-2.3,"s":"No T1 event"},{"x":0,"y":-2.2,"s":"No T1 event"},{"x":-0.3,"y":-2,"s":"No T1 event"},{"x":-0.5,"y":-1.6,"s":"No T1 event"},{"x":-0.8,"y":-1.1,"s":"No T1 event"},{"x":-1.1,"y":-0.6,"s":"No T1 event"},{"x":-1.4,"y":-0.2,"s":"No T1 event"},{"x":-1.8,"y":0.2,"s":"No T1 event"},{"x":-2.1,"y":0.7,"s":"No T1 event"},{"x":-2.4,"y":1.2,"s":"No T1 event"},{"x":-2.5,"y":1.7,"s":"No T1 event"},{"x":-2.4,"y":2.1,"s":"No T1 event"},{"x":2.7,"y":1.7,"s":"No T1 event"},{"x":3,"y":2,"s":"No T1 event"},{"x":3.4,"y":2,"s":"No T1 event"},{"x":3.7,"y":1.6,"s":"No T1 event"},{"x":4,"y":1.1,"s":"No T1 event"},{"x":4.1,"y":0.6,"s":"No T1 event"},{"x":3.9,"y":0,"s":"No T1 event"},{"x":3.4,"y":-0.1,"s":"No T1 event"},{"x":2.9,"y":0.3,"s":"No T1 event"},{"x":2.6,"y":0.9,"s":"No T1 event"},{"x":2.5,"y":1.3,"s":"No T1 event"},{"x":3,"y":0.9,"s":"No T1 event"},{"x":3.3,"y":1.2,"s":"No T1 event"},{"x":3.6,"y":0.6,"s":"No T1 event"},
{"x":-2.35,"y":2.6,"s":"No T1 event"},{"x":-2.55,"y":2.25,"s":"No T1 event"},{"x":-2.75,"y":1.75,"s":"No T1 event"},{"x":-2.65,"y":1.4,"s":"No T1 event"},{"x":-2.45,"y":0.9,"s":"No T1 event"},{"x":-2.25,"y":0.45,"s":"No T1 event"},{"x":-2.05,"y":0.1,"s":"No T1 event"},{"x":-1.65,"y":-0.15,"s":"No T1 event"},{"x":-1.3,"y":-0.55,"s":"No T1 event"},{"x":-1,"y":-0.95,"s":"No T1 event"},{"x":-0.8,"y":-1.5,"s":"No T1 event"},{"x":-0.65,"y":-1.85,"s":"No T1 event"},{"x":-0.4,"y":-2.25,"s":"No T1 event"},{"x":0.2,"y":-2.45,"s":"No T1 event"},{"x":0.7,"y":-2.45,"s":"No T1 event"},{"x":1.05,"y":-2.05,"s":"No T1 event"},{"x":1.25,"y":-1.65,"s":"No T1 event"},{"x":1.35,"y":-1.05,"s":"No T1 event"},{"x":1.25,"y":-0.6,"s":"No T1 event"},{"x":1,"y":-0.2,"s":"No T1 event"},{"x":0.7,"y":0.05,"s":"No T1 event"},{"x":0.35,"y":0.25,"s":"No T1 event"},{"x":-0.05,"y":0.45,"s":"No T1 event"},{"x":-0.35,"y":0.75,"s":"No T1 event"},{"x":-0.6,"y":1.05,"s":"No T1 event"},{"x":-0.85,"y":1.55,"s":"No T1 event"},{"x":-1.1,"y":2,"s":"No T1 event"},{"x":-1.35,"y":2.5,"s":"No T1 event"},{"x":-1.75,"y":2.75,"s":"No T1 event"},{"x":-2.1,"y":2.85,"s":"No T1 event"},{"x":2.75,"y":2.1,"s":"No T1 event"},{"x":3.2,"y":2.25,"s":"No T1 event"},{"x":3.7,"y":2,"s":"No T1 event"},{"x":4.05,"y":1.5,"s":"No T1 event"},{"x":4.25,"y":0.9,"s":"No T1 event"},{"x":4.25,"y":0.35,"s":"No T1 event"},{"x":4.05,"y":-0.15,"s":"No T1 event"},{"x":3.6,"y":-0.25,"s":"No T1 event"},{"x":3.15,"y":-0.05,"s":"No T1 event"},{"x":2.75,"y":0.45,"s":"No T1 event"},{"x":2.45,"y":1,"s":"No T1 event"},{"x":2.4,"y":1.6,"s":"No T1 event"}
]},"mark":{"type":"point","filled":true,"size":5,"strokeWidth":1},"encoding":{"color":{"field":"s","type":"nominal","scale":{"domain":["T1 event","No T1 event"],"range":["#1f77b4","#ff7f0e"]},"legend":{"title":null,"orient":"none","legendX":661,"legendY":57.5,"padding":8,"fillColor":"#ffffffcc","strokeColor":"#e6e6e6","cornerRadius":3,"labelFontSize":17.5,"labelFont":"DejaVu Sans","labelColor":"#1a1a1a","labelOffset":19,"symbolSize":70,"symbolOffset":12,"symbolStrokeWidth":1.2,"rowPadding":8,"labelLimit":200,"encode":{"symbols":{"update":{"stroke":{"signal":"datum.value==='T1 event'?'#1f77b4':'#ff7f0e'"},"opacity":{"signal":"datum.value==='T1 event'?1:0.5"}}}}}},"stroke":{"field":"s","type":"nominal","legend":null,"scale":{"domain":["T1 event","No T1 event"],"range":["#1f77b4","#ff7f0e"]}},"shape":{"field":"s","type":"nominal","scale":{"domain":["T1 event","No T1 event"],"range":["circle","M-.6,-.6L.6,.6M-.6,.6L.6,-.6"]},"legend":{"title":null}},"opacity":{"field":"s","type":"nominal","legend":null,"scale":{"domain":["T1 event","No T1 event"],"range":[1,0.65]}}}},
{"data":{"values":[{"x":-28.94,"y":6.86,"t":"(a)"},{"x":-10.32,"y":6.86,"t":"(b)"}]},"mark":{"type":"text","align":"left","baseline":"middle","font":"Open Sans","fontSize":23,"color":"#222222"},"encoding":{"text":{"field":"t"}}}
]}
]}
